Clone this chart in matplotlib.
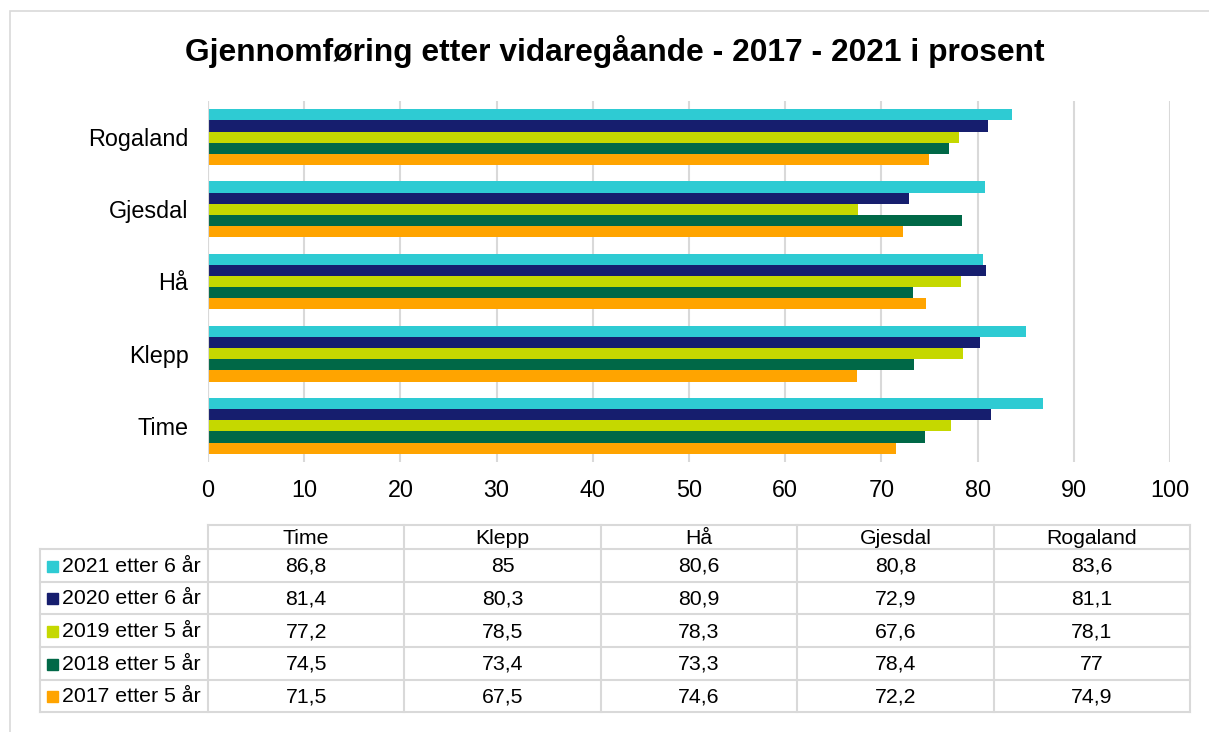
import matplotlib
matplotlib.use("Agg")
import matplotlib.pyplot as plt
from matplotlib.patches import Rectangle
from matplotlib.lines import Line2D

plt.rcParams['font.family'] = ['Liberation Sans', 'DejaVu Sans']

categories = ["Time", "Klepp", "Hå", "Gjesdal", "Rogaland"]
series_names = ["2021 etter 6 år", "2020 etter 6 år", "2019 etter 5 år",
                "2018 etter 5 år", "2017 etter 5 år"]
v2021 = [86.8, 85, 80.6, 80.8, 83.6]
v2020 = [81.4, 80.3, 80.9, 72.9, 81.1]
v2019 = [77.2, 78.5, 78.3, 67.6, 78.1]
v2018 = [74.5, 73.4, 73.3, 78.4, 77]
v2017 = [71.5, 67.5, 74.6, 72.2, 74.9]
series_values = [v2021, v2020, v2019, v2018, v2017]
colors = ["#2ECBD3", "#161E6E", "#C5D800", "#006847", "#FFA400"]
xticks = [0, 10, 20, 30, 40, 50, 60, 70, 80, 90, 100]
title = "Gjennomføring etter vidaregåande - 2017 - 2021 i prosent"

W, H = 1209, 732
fig = plt.figure(figsize=(W / 100, H / 100), dpi=100)

def px(x0, y0, x1, y1):
    return [x0 / W, 1 - y1 / H, (x1 - x0) / W, (y1 - y0) / H]

grid_c = "#D9D9D9"

# outer chart border
fig.patches.append(Rectangle((10 / W, -0.1), 1.2, 1 - 11 / H + 0.1,
                             transform=fig.transFigure, fill=False,
                             edgecolor=grid_c, linewidth=1.2))

fig.text(615 / W, 1 - 51 / H, title, ha="center", va="center",
         fontsize=22.9, fontweight="bold")

ax = fig.add_axes(px(208, 101, 1170, 462))
h = 0.155
for i, (name, vals, c) in enumerate(zip(series_names, series_values, colors)):
    off = (2 - i) * h
    ax.barh([k + off for k in range(len(categories))], vals, height=h,
            color=c, label=name, zorder=3)
ax.set_xlim(0, 100)
ax.set_ylim(-0.5, len(categories) - 0.5)
ax.set_xticks(xticks)
ax.set_xticklabels([str(t) for t in xticks], fontsize=16.8)
ax.set_yticks(range(len(categories)))
ax.set_yticklabels(categories, fontsize=16.8)
ax.tick_params(length=0, pad=12)
ax.tick_params(axis="y", pad=14)
ax.xaxis.grid(True, color=grid_c, linewidth=1.5, zorder=0)
for s in ax.spines.values():
    s.set_visible(False)
ax.axvline(0, color=grid_c, linewidth=1.5, zorder=4)

# data table
tab = fig.add_axes([0, 0, 1, 1], facecolor="none")
tab.set_xlim(0, W)
tab.set_ylim(H, 0)
tab.axis("off")
col_x = [208 + k * (1190 - 208) / 5 for k in range(6)]
row_y = [525, 549, 582, 614, 647, 680, 712]
lw = 1.5
tab.add_line(Line2D([208, 1190], [row_y[0], row_y[0]], color=grid_c, lw=lw))
for yy in row_y[1:]:
    tab.add_line(Line2D([40, 1190], [yy, yy], color=grid_c, lw=lw))
tab.add_line(Line2D([40, 40], [row_y[1], row_y[-1]], color=grid_c, lw=lw))
for xx in col_x:
    tab.add_line(Line2D([xx, xx], [row_y[0], row_y[-1]], color=grid_c, lw=lw))
fs = 15.3
for k, cat in enumerate(categories):
    cx = (col_x[k] + col_x[k + 1]) / 2
    tab.text(cx, (row_y[0] + row_y[1]) / 2 + 1, cat, ha="center", va="center", fontsize=fs)
for r, (name, vals, c) in enumerate(zip(series_names, series_values, colors)):
    cy = (row_y[r + 1] + row_y[r + 2]) / 2 + 1
    tab.add_patch(Rectangle((47, cy - 6), 11, 11, color=c))
    tab.text(62, cy, name, ha="left", va="center", fontsize=fs)
    for k, v in enumerate(vals):
        cx = (col_x[k] + col_x[k + 1]) / 2
        tab.text(cx, cy, f"{v:g}".replace(".", ","), ha="center", va="center", fontsize=fs)

fig.savefig("out.png", dpi=100)
